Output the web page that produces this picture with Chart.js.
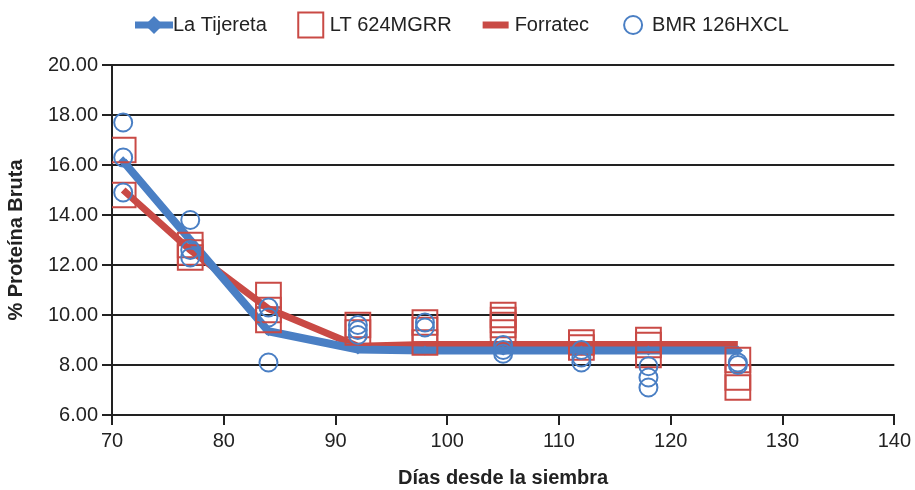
<!DOCTYPE html>
<html lang="es">
<head>
<meta charset="UTF-8">
<title>Proteína bruta</title>
<script src="https://cdn.jsdelivr.net/npm/chart.js"></script>
<style>
  body { margin: 0; background: #fff; }
  #wrap { width: 915px; height: 490px; }
</style>
</head>
<body>
<div id="wrap"><canvas id="grafico" width="915" height="490"></canvas></div>
<script>
// días desde la siembra de cada corte
const dias = [71, 77, 84, 92, 98, 105, 112, 118, 126];

// curvas ajustadas
const laTijereta = [16.15, 13.0, 9.35, 8.62, 8.58, 8.58, 8.58, 8.58, 8.58];
const forratec   = [15.0, 12.6, 10.25, 8.75, 8.82, 8.82, 8.82, 8.82, 8.82];

// valores observados por híbrido
const lt624Dias    = [71, 71, 77, 77, 77, 84, 84, 84, 92, 92, 98, 98, 98, 105, 105, 105, 105, 112, 112, 118, 118, 118, 126, 126, 126];
const lt624Valores = [16.6, 14.8, 12.8, 12.5, 12.3, 10.8, 10.2, 9.8, 9.6, 9.3, 9.7, 9.4, 8.9, 10.0, 9.8, 9.6, 9.3, 8.9, 8.7, 9.0, 8.8, 8.4, 8.2, 7.5, 7.1];

const bmrDias    = [71, 71, 71, 77, 77, 77, 84, 84, 84, 92, 92, 92, 98, 98, 105, 105, 105, 112, 112, 112, 118, 118, 118, 126, 126];
const bmrValores = [17.7, 16.3, 14.9, 13.8, 12.6, 12.3, 10.3, 9.9, 8.1, 9.6, 9.4, 9.2, 9.7, 9.5, 8.8, 8.6, 8.45, 8.6, 8.3, 8.1, 7.95, 7.5, 7.1, 8.1, 8.0];

const azul = '#4a7fc4';
const rojo = '#c94a45';
const fuente = 'Liberation Sans, Arial, sans-serif';

const pares = (xs, ys) => xs.map((x, i) => ({ x: x, y: ys[i] }));

// leyenda dibujada a mano en la franja superior
const leyenda = {
  id: 'leyenda',
  afterDraw(chart) {
    const ctx = chart.ctx;
    const items = [
      { texto: 'La Tijereta', tipo: 'lineaRombo', color: azul },
      { texto: 'LT 624MGRR', tipo: 'cuadro', color: rojo },
      { texto: 'Forratec', tipo: 'linea', color: rojo },
      { texto: 'BMR 126HXCL', tipo: 'circulo', color: azul }
    ];
    const y = 25;
    let cx = 154;
    ctx.save();
    ctx.font = '20px ' + fuente;
    ctx.textBaseline = 'middle';
    items.forEach(it => {
      ctx.strokeStyle = it.color;
      ctx.fillStyle = it.color;
      if (it.tipo === 'lineaRombo' || it.tipo === 'linea') {
        const w = it.tipo === 'linea' ? 13 : 19;
        ctx.lineWidth = 7;
        ctx.beginPath();
        ctx.moveTo(cx - w, y);
        ctx.lineTo(cx + w, y);
        ctx.stroke();
        if (it.tipo === 'lineaRombo') {
          ctx.beginPath();
          ctx.moveTo(cx, y - 9);
          ctx.lineTo(cx + 9, y);
          ctx.lineTo(cx, y + 9);
          ctx.lineTo(cx - 9, y);
          ctx.closePath();
          ctx.fill();
        }
      } else if (it.tipo === 'cuadro') {
        ctx.lineWidth = 2;
        ctx.strokeRect(cx - 12.5, y - 12.5, 25, 25);
      } else {
        ctx.lineWidth = 2;
        ctx.beginPath();
        ctx.arc(cx, y, 9, 0, Math.PI * 2);
        ctx.stroke();
      }
      ctx.fillStyle = '#222';
      ctx.fillText(it.texto, cx + 19, y);
      cx += 19 + ctx.measureText(it.texto).width + 44;
    });
    ctx.restore();
  }
};

new Chart(document.getElementById('grafico'), {
  type: 'line',
  data: {
    datasets: [
      {
        label: 'BMR 126HXCL',
        type: 'scatter',
        data: pares(bmrDias, bmrValores),
        showLine: false,
        pointStyle: 'circle',
        pointRadius: 9,
        borderColor: azul,
        backgroundColor: 'rgba(0,0,0,0)',
        pointBorderWidth: 2,
        order: 0
      },
      {
        label: 'LT 624MGRR',
        type: 'scatter',
        data: pares(lt624Dias, lt624Valores),
        showLine: false,
        pointStyle: 'rect',
        pointRadius: 17.5,
        borderColor: rojo,
        backgroundColor: 'rgba(0,0,0,0)',
        pointBorderWidth: 2,
        order: 1
      },
      {
        label: 'La Tijereta',
        data: pares(dias, laTijereta),
        borderColor: azul,
        backgroundColor: azul,
        borderWidth: 8,
        pointStyle: 'rectRot',
        pointRadius: 5,
        pointBorderWidth: 0,
        tension: 0,
        order: 2
      },
      {
        label: 'Forratec',
        data: pares(dias, forratec),
        borderColor: rojo,
        backgroundColor: rojo,
        borderWidth: 7,
        pointRadius: 0,
        tension: 0,
        order: 3
      }
    ]
  },
  options: {
    responsive: false,
    animation: false,
    layout: { padding: { top: 65, right: 4, left: 0, bottom: 0 } },
    plugins: {
      legend: { display: false },
      tooltip: { enabled: false }
    },
    scales: {
      x: {
        type: 'linear',
        min: 70,
        max: 140,
        ticks: { stepSize: 10, color: '#222', font: { family: fuente, size: 20 }, padding: 4 },
        grid: { drawOnChartArea: false, drawTicks: true, tickLength: 10, color: '#222', lineWidth: 2 },
        border: { color: '#222', width: 2 },
        title: {
          display: true,
          text: 'Días desde la siembra',
          color: '#222',
          font: { family: fuente, size: 20, weight: 'bold' },
          padding: { top: 0, bottom: 0 }
        },
        afterFit(s) { s.height = 75; }
      },
      y: {
        min: 6,
        max: 20,
        ticks: {
          stepSize: 2,
          color: '#222',
          font: { family: fuente, size: 20 },
          padding: 4,
          callback: v => v.toFixed(2)
        },
        grid: { color: '#222', lineWidth: 2, tickLength: 10 },
        border: { color: '#222', width: 2 },
        title: {
          display: true,
          text: '% Proteína Bruta',
          color: '#222',
          font: { family: fuente, size: 20, weight: 'bold' },
          padding: { top: 4, bottom: 0 }
        },
        afterFit(s) { s.width = 112; }
      }
    }
  },
  plugins: [leyenda]
});
</script>
</body>
</html>
